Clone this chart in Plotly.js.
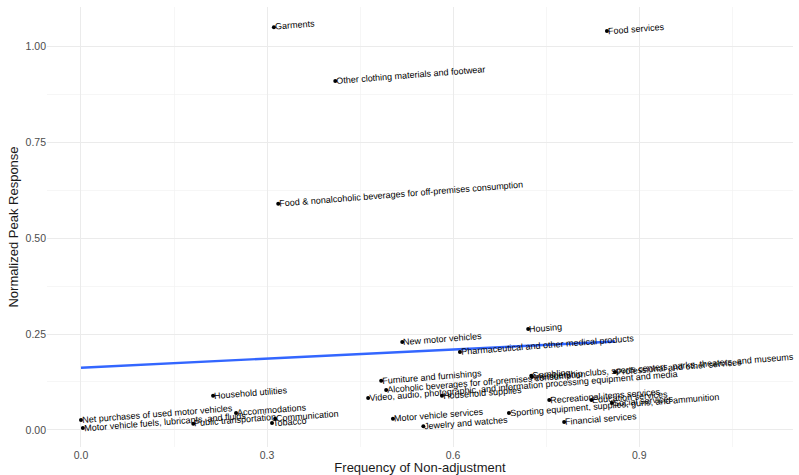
<!DOCTYPE html>
<html>
<head>
<meta charset="utf-8">
<script src="https://cdn.plot.ly/plotly-3.0.1.min.js"></script>
<style>html,body{margin:0;padding:0;background:#fff;}#chart{width:799px;height:475px;}</style>
</head>
<body>
<div id="chart"></div>
<script>
var categories = [
  "Garments",
  "Food services",
  "Other clothing materials and footwear",
  "Food & nonalcoholic beverages for off-premises consumption",
  "Housing",
  "New motor vehicles",
  "Pharmaceutical and other medical products",
  "Household utilities",
  "Net purchases of used motor vehicles",
  "Motor vehicle fuels, lubricants, and fluids",
  "Public transportation",
  "Accommodations",
  "Tobacco",
  "Communication",
  "Furniture and furnishings",
  "Alcoholic beverages for off-premises consumption",
  "Video, audio, photographic, and information processing equipment and media",
  "Household supplies",
  "Motor vehicle services",
  "Jewelry and watches",
  "Sporting equipment, supplies, guns, and ammunition",
  "Membership clubs, sports centers, parks, theaters, and museums",
  "Gambling",
  "Professional and other services",
  "Recreational items services",
  "Education services",
  "Social services",
  "Financial services"
];
var freqNonAdj = [0.311, 0.848, 0.410, 0.318, 0.721, 0.518, 0.611, 0.213, 0.000, 0.003,
                  0.181, 0.250, 0.308, 0.313, 0.484, 0.492, 0.463, 0.582, 0.503, 0.552,
                  0.690, 0.727, 0.726, 0.861, 0.755, 0.823, 0.856, 0.779];
var peakResponse = [1.049, 1.039, 0.909, 0.589, 0.263, 0.229, 0.203, 0.089, 0.026, 0.005,
                    0.016, 0.044, 0.018, 0.029, 0.128, 0.104, 0.083, 0.089, 0.029, 0.010,
                    0.044, 0.138, 0.141, 0.151, 0.078, 0.078, 0.070, 0.021];
var xTickVals = [0, 0.3, 0.6, 0.9];
var xTickText = ["0.0", "0.3", "0.6", "0.9"];
var yTickVals = [0, 0.25, 0.5, 0.75, 1.0];
var yTickText = ["0.00", "0.25", "0.50", "0.75", "1.00"];

// least squares fit (geom_smooth method = "lm")
var n = freqNonAdj.length, mx = 0, my = 0;
for (var i = 0; i < n; i++) { mx += freqNonAdj[i]; my += peakResponse[i]; }
mx /= n; my /= n;
var sxy = 0, sxx = 0;
for (var i = 0; i < n; i++) { sxy += (freqNonAdj[i]-mx)*(peakResponse[i]-my); sxx += (freqNonAdj[i]-mx)*(freqNonAdj[i]-mx); }
var slope = sxy / sxx, intercept = my - slope * mx;
var xmin = Math.min.apply(null, freqNonAdj), xmax = Math.max.apply(null, freqNonAdj);
var fitX = [], fitY = [];
for (var k = 0; k <= 40; k++) { var xv = xmin + (xmax - xmin) * k / 40; fitX.push(xv); fitY.push(intercept + slope * xv); }

var ANGLE = 4.5;
var labelFont = "Liberation Sans, Arial, Helvetica, sans-serif";
var cv = document.createElement("canvas").getContext("2d");
cv.font = "9px 'Liberation Sans', Arial, sans-serif";
var annotations = categories.map(function (c, i) {
  var w = cv.measureText(c).width + 4;
  return {
    x: freqNonAdj[i], y: peakResponse[i], xref: "x", yref: "y",
    text: c, showarrow: false, xanchor: "left", yanchor: "middle",
    textangle: -ANGLE, font: {family: labelFont, size: 9, color: "#000"},
    yshift: (w / 2) * Math.sin(ANGLE * Math.PI / 180), xshift: -1.5
  };
});

var traces = [
  {x: fitX, y: fitY, type: "scatter", mode: "lines", line: {color: "#3366FF", width: 2.4}, hoverinfo: "skip"},
  {x: freqNonAdj, y: peakResponse, type: "scatter", mode: "markers", marker: {color: "#000", size: 4}, text: categories}
];

var tickFont = {family: labelFont, size: 10.5, color: "#4d4d4d"};
var layout = {
  width: 799, height: 475,
  margin: {l: 47, r: 6, t: 7, b: 28},
  paper_bgcolor: "#fff", plot_bgcolor: "#fff",
  showlegend: false,
  font: {family: labelFont},
  xaxis: {
    range: [-0.0548, 1.148], tickmode: "array", tickvals: xTickVals, ticktext: xTickText,
    showgrid: true, gridcolor: "#ebebeb", gridwidth: 1, zeroline: false, showline: false,
    ticks: "", tickfont: tickFont,
    minor: {tickmode: "array", tickvals: [0.15, 0.45, 0.75, 1.05], showgrid: true, gridcolor: "#f2f2f2", gridwidth: 0.7},
    title: {text: "Frequency of Non-adjustment", font: {family: labelFont, size: 13, color: "#1a1a1a"}, standoff: 2},
    automargin: false
  },
  yaxis: {
    range: [-0.0443, 1.1016], tickmode: "array", tickvals: yTickVals, ticktext: yTickText,
    showgrid: true, gridcolor: "#ebebeb", gridwidth: 1, zeroline: false, showline: false,
    ticks: "", tickfont: tickFont,
    minor: {tickmode: "array", tickvals: [0.125, 0.375, 0.625, 0.875], showgrid: true, gridcolor: "#f2f2f2", gridwidth: 0.7},
    title: {text: "Normalized Peak Response", font: {family: labelFont, size: 13, color: "#1a1a1a"}, standoff: 4},
    automargin: false
  },
  annotations: annotations
};

Plotly.newPlot("chart", traces, layout, {displayModeBar: false, staticPlot: true});
</script>
</body>
</html>
